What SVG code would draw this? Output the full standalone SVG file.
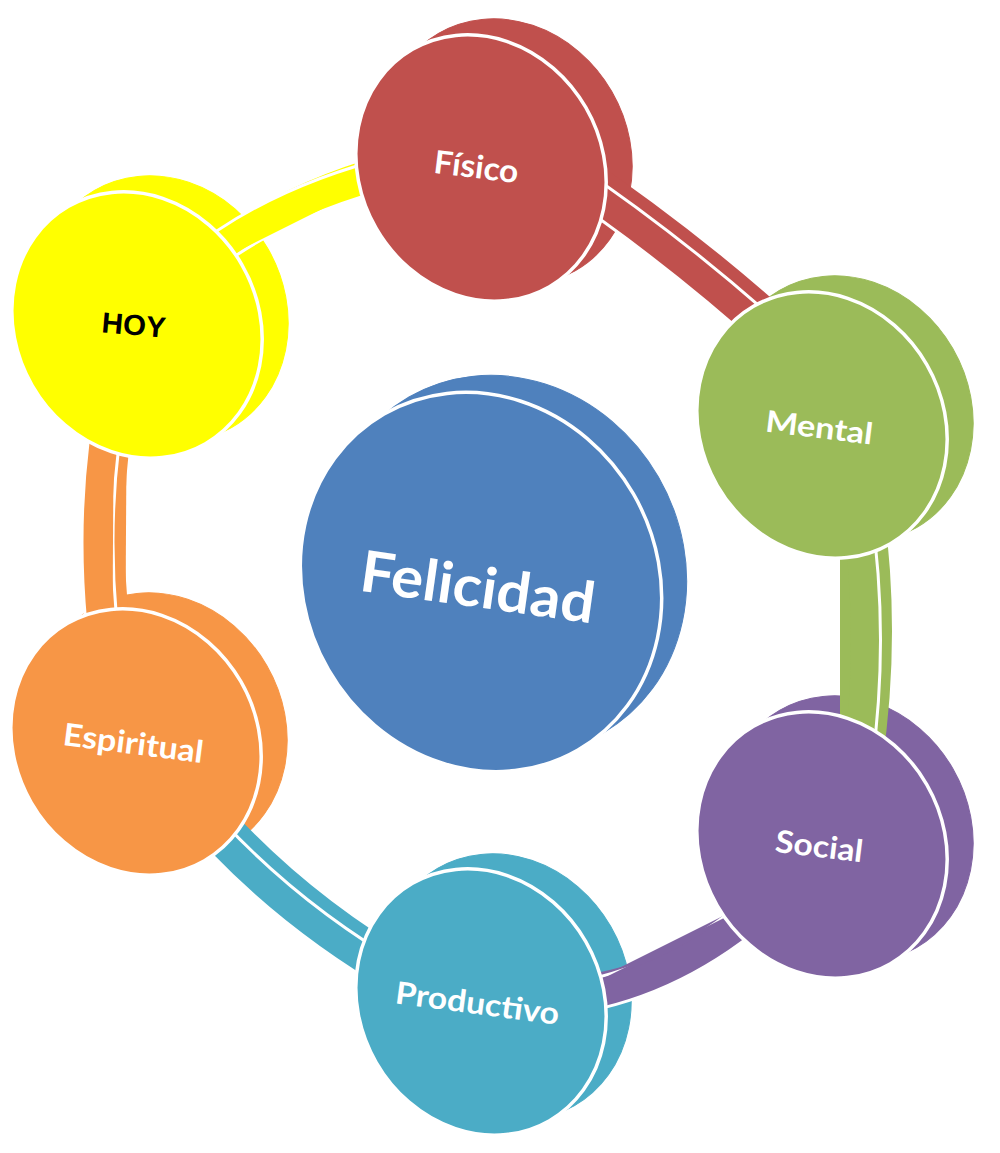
<svg xmlns="http://www.w3.org/2000/svg" width="1000" height="1153" viewBox="0 0 1000 1153">
  <style>
    .front { stroke: #ffffff; stroke-width: 3.5; }
    .lbl { font-family: Lato, "Open Sans", "Liberation Sans", sans-serif; font-weight: 700; fill: #ffffff; text-anchor: middle; }
    .lblk { font-family: "Liberation Sans", Arial, sans-serif; font-weight: 700; fill: #000000; text-anchor: middle; }
    .band { fill: none; stroke-width: 28; stroke-linecap: butt; }
    .halo { fill: none; stroke: #ffffff; stroke-width: 34; stroke-linecap: butt; }
    .red { fill: #C0504D; stroke: #C0504D; }
    .green { fill: #9BBB59; stroke: #9BBB59; }
    .purple { fill: #8064A2; stroke: #8064A2; }
    .teal { fill: #4BACC6; stroke: #4BACC6; }
    .orange { fill: #F79646; stroke: #F79646; }
    .yellow { fill: #FFFF00; stroke: #FFFF00; }
    .blue { fill: #4F81BD; stroke: #4F81BD; }
  </style>
  <rect width="1000" height="1153" fill="#ffffff"/>

  <!-- depth (back faces) of the discs -->
  <g id="depth">
    <ellipse class="red" cx="507" cy="152" rx="121" ry="137" transform="rotate(-30 507 152)"/>
    <ellipse class="green" cx="848" cy="409" rx="121" ry="137" transform="rotate(-30 848 409)"/>
    <ellipse class="purple" cx="848" cy="829" rx="121" ry="137" transform="rotate(-30 848 829)"/>
    <ellipse class="teal" cx="506" cy="987" rx="121" ry="137" transform="rotate(-30 506 987)"/>
    <ellipse class="orange" cx="162" cy="726" rx="121" ry="137" transform="rotate(-30 162 726)"/>
    <ellipse class="yellow" cx="163" cy="309" rx="121" ry="137" transform="rotate(-30 163 309)"/>
    <ellipse class="blue" cx="506" cy="565" rx="176" ry="194" transform="rotate(-30 506 565)"/>
  </g>

  <!-- connectors -->
  <g id="connectors">
    <g id="c-fisico-mental">
      <path class="band red" d="M 562,174 Q 678,252 782,347" transform="translate(13,-9)"/>
      <path class="halo" d="M 562,174 Q 678,252 782,347"/>
      <path class="band red" d="M 562,174 Q 678,252 782,347"/>
    </g>
    <g id="c-mental-social">
      <path class="band green" d="M 840,430 Q 890,640 840,850" transform="translate(13,-9)"/>
      <path class="halo" d="M 840,430 Q 890,640 840,850"/>
      <path class="band green" d="M 840,430 Q 890,640 840,850"/>
    </g>
    <g id="c-social-productivo">
      <path class="band purple" d="M 780,890 Q 680,985 560,1000" transform="translate(13,-9)"/>
      <path class="halo" d="M 780,890 Q 680,985 560,1000"/>
      <path class="band purple" d="M 780,890 Q 680,985 560,1000"/>
    </g>
    <g id="c-productivo-espiritual">
      <path class="band teal" d="M 400,981 Q 270,906 180,796" transform="translate(13,-9)"/>
      <path class="halo" d="M 400,981 Q 270,906 180,796"/>
      <path class="band teal" d="M 400,981 Q 270,906 180,796"/>
    </g>
    <g id="c-espiritual-hoy">
      <path class="band orange" d="M 112,700 Q 82,534 114,380" transform="translate(13,-9)"/>
      <path class="halo" d="M 112,700 Q 82,534 114,380"/>
      <path class="band orange" d="M 112,700 Q 82,534 114,380"/>
    </g>
    <g id="c-hoy-fisico">
      <path class="band yellow" d="M 180,280 Q 260,205 400,170" transform="translate(13,-9)"/>
      <path class="halo" d="M 180,280 Q 260,205 400,170"/>
      <path class="band yellow" d="M 180,280 Q 260,205 400,170"/>
    </g>
  </g>

  <!-- nodes -->
  <g id="node-fisico">
    <ellipse class="front" fill="#C0504D" cx="481" cy="168" rx="121" ry="137" transform="rotate(-30 481 168)"/>
    <text class="lbl" x="475" y="178" font-size="32" textLength="85" lengthAdjust="spacingAndGlyphs" transform="rotate(7 475 178)">Físico</text>
  </g>
  <g id="node-mental">
    <ellipse class="front" fill="#9BBB59" cx="822" cy="425" rx="121" ry="137" transform="rotate(-30 822 425)"/>
    <text class="lbl" x="818" y="438" font-size="30" textLength="108" lengthAdjust="spacingAndGlyphs" transform="rotate(7 818 438)">Mental</text>
  </g>
  <g id="node-social">
    <ellipse class="front" fill="#8064A2" cx="822" cy="845" rx="121" ry="137" transform="rotate(-30 822 845)"/>
    <text class="lbl" x="818" y="857" font-size="31" textLength="88" lengthAdjust="spacingAndGlyphs" transform="rotate(7 818 857)">Social</text>
  </g>
  <g id="node-productivo">
    <ellipse class="front" fill="#4BACC6" cx="481" cy="1002" rx="121" ry="137" transform="rotate(-30 481 1002)"/>
    <text class="lbl" x="476" y="1014" font-size="31" textLength="165" lengthAdjust="spacingAndGlyphs" transform="rotate(7.5 476 1014)">Productivo</text>
  </g>
  <g id="node-espiritual">
    <ellipse class="front" fill="#F79646" cx="136" cy="742" rx="121" ry="137" transform="rotate(-30 136 742)"/>
    <text class="lbl" x="132" y="754" font-size="31" textLength="141" lengthAdjust="spacingAndGlyphs" transform="rotate(7.3 132 754)">Espiritual</text>
  </g>
  <g id="node-hoy">
    <ellipse class="front" fill="#FFFF00" cx="137" cy="325" rx="121" ry="137" transform="rotate(-30 137 325)"/>
    <text class="lblk" x="133" y="335" font-size="29" textLength="64" lengthAdjust="spacingAndGlyphs" transform="rotate(5 133 335)">HOY</text>
  </g>
  <g id="node-felicidad">
    <ellipse class="front" fill="#4F81BD" cx="481" cy="582" rx="176" ry="194" transform="rotate(-30 481 582)"/>
    <text class="lbl" x="475" y="607" font-size="57" textLength="236" lengthAdjust="spacingAndGlyphs" transform="rotate(8 475 607)">Felicidad</text>
  </g>
</svg>
